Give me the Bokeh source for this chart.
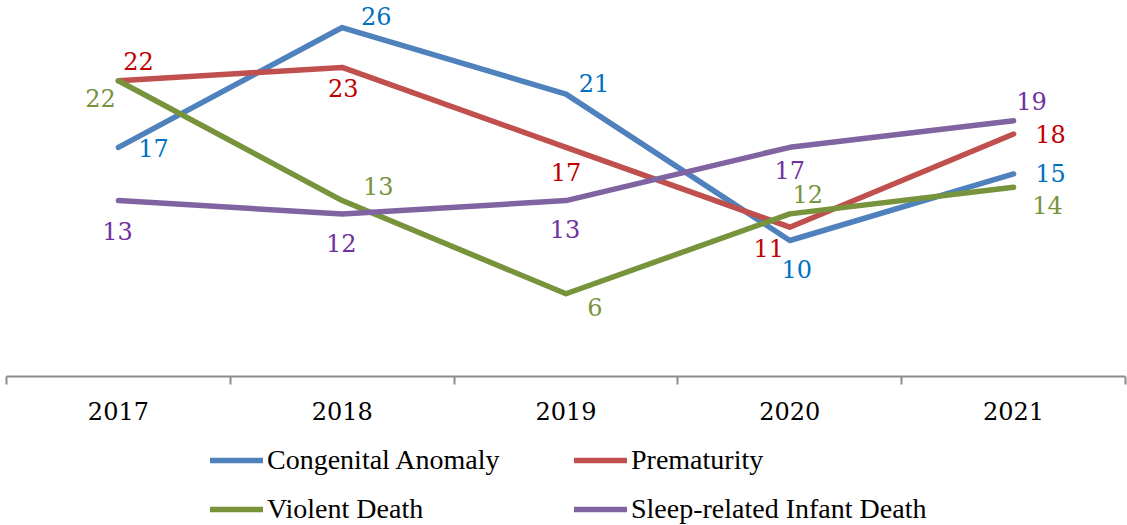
import numpy as np
from bokeh.plotting import figure
from bokeh.layouts import column
from bokeh.models import ColumnDataSource, Range1d, FixedTicker, Legend, LegendItem
from bokeh.core.properties import value
from bokeh.embed import file_html
from bokeh.resources import INLINE

# ---- data ----
years = ["2017", "2018", "2019", "2020", "2021"]
congenital_anomaly = [17, 26, 21, 10, 15]
prematurity = [22, 23, 17, 11, 18]
violent_death = [22, 13, 6, 12, 14]
sleep_related = [13, 12, 13, 17, 19]
series_names = ["Congenital Anomaly", "Prematurity", "Violent Death",
                "Sleep-related Infant Death"]

# ---- styles ----
line_colors = ["#4F81BD", "#C0504D", "#77933C", "#8064A2"]
label_colors = ["#0070C0", "#C00000", "#77933C", "#7030A0"]
# label offsets in screen pixels (dx, dy), dy positive = down
label_dx = [[35, 34, 28, 7, 37],
            [20, 1, 0, -21, 37],
            [-18, 36, 29, 18, 34],
            [-1, -1, -1, 0, 18]]
label_dy = [[1, -12, -11, 28, -1],
            [-20, 21, 25, 21, 0],
            [17, -15, 13, -20, 18],
            [30, 29, 28, 23, -20]]

SERIF = "DejaVu Serif"
LINE_W = 5.5

p = figure(width=1127, height=430, output_backend="svg", toolbar_location=None,
           x_range=Range1d(0, len(years)), y_range=Range1d(-0.216, 28.03),
           min_border_left=6, min_border_right=2, min_border_top=0,
           min_border_bottom=54, y_axis_location=None)
p.outline_line_color = None
p.xgrid.visible = False
p.ygrid.visible = False

xs = np.arange(len(years)) + 0.5
all_values = [congenital_anomaly, prematurity, violent_death, sleep_related]

for i, vals in enumerate(all_values):
    src = ColumnDataSource(dict(x=xs, y=vals))
    p.line("x", "y", source=src, line_color=line_colors[i], line_width=LINE_W,
           line_cap="round", line_join="round")

for i, vals in enumerate(all_values):
    src = ColumnDataSource(dict(x=xs, y=vals, label=[str(v) for v in vals],
                                dx=label_dx[i], dy=label_dy[i]))
    p.text("x", "y", text="label", source=src, x_offset="dx", y_offset="dy",
           text_align="center", text_baseline="middle",
           text_font=value(SERIF), text_font_size="24px",
           text_color=label_colors[i])

ax = p.xaxis[0]
ax.ticker = FixedTicker(ticks=list(xs), minor_ticks=list(range(len(years) + 1)))
ax.major_label_overrides = {float(x): y for x, y in zip(xs, years)}
ax.major_tick_out = 0
ax.major_tick_in = 0
ax.minor_tick_out = 8
ax.minor_tick_in = 0
ax.minor_tick_line_color = "#8C8C8C"
ax.minor_tick_line_width = 2
ax.axis_line_color = "#8C8C8C"
ax.axis_line_width = 2
ax.major_label_standoff = 17
ax.major_label_text_font = SERIF
ax.major_label_text_font_size = "24px"
ax.major_label_text_color = "black"

# ---- legend strip ----
lf = figure(width=1127, height=95, output_backend="svg", toolbar_location=None,
            x_range=Range1d(0, 1), y_range=Range1d(0, 1),
            min_border_left=0, min_border_right=0, min_border_top=0,
            min_border_bottom=0, x_axis_location=None, y_axis_location=None)
lf.outline_line_color = None
lf.xgrid.visible = False
lf.ygrid.visible = False

legend_renderers = []
for i in range(len(series_names)):
    r = lf.line(x=[np.nan, np.nan], y=[np.nan, np.nan], line_color=line_colors[i],
                line_width=LINE_W, line_cap="round")
    legend_renderers.append(r)

def make_legend(idx, loc):
    return Legend(items=[LegendItem(label=series_names[k], renderers=[legend_renderers[k]])
                         for k in idx],
                  location=loc, glyph_width=53, glyph_height=30, label_height=30,
                  label_standoff=4, spacing=17, padding=0, margin=0,
                  label_text_font="Liberation Serif", label_text_font_size="28px",
                  label_text_color="black", label_text_baseline="middle",
                  border_line_color=None, background_fill_alpha=0)

lf.add_layout(make_legend([0, 2], (204, 0)), "center")
lf.add_layout(make_legend([1, 3], (568, 0)), "center")

open("out.html", "w").write(file_html(column(p, lf, spacing=0), INLINE))
